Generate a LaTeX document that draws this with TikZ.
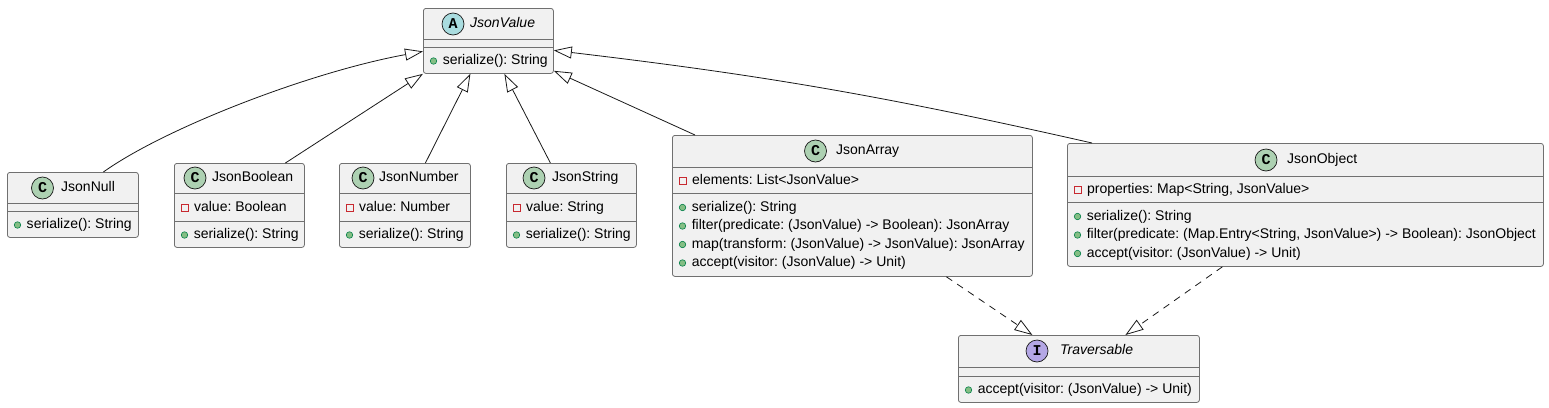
\documentclass[tikz,border=0pt]{standalone}
\usepackage{fontspec}
\setmainfont{Liberation Sans}
\newfontfamily\iconfont{Liberation Mono}
\usepackage{tikz}
\usetikzlibrary{positioning, arrows.meta}

\definecolor{boxfill}{HTML}{F1F1F1}
\definecolor{boxline}{HTML}{707070}
\definecolor{edge}{HTML}{181818}
\definecolor{iconC}{HTML}{ADD1B2}
\definecolor{iconA}{HTML}{A9DCDF}
\definecolor{iconI}{HTML}{B4A7E5}
\definecolor{pubfill}{HTML}{84BE84}
\definecolor{publine}{HTML}{038048}
\definecolor{privline}{HTML}{C82930}

\begin{document}
\begin{tikzpicture}[x=1pt,y=-1pt,
                    font=\fontsize{14pt}{16pt}\selectfont\frenchspacing,
                    inherit/.style={-{Triangle[open,length=18pt,width=12pt]},line width=0.8pt,draw=edge},
                    realize/.style={inherit,dash pattern=on 7pt off 6pt}]
\tikzset{classbox/.style={draw=boxline,fill=boxfill,line width=0.8pt,rounded corners=2.5pt,
                          anchor=north west,inner sep=0pt}}
\tikzset{sepline/.style={draw=boxline,line width=0.8pt}}
\tikzset{classicon/.style={circle,draw=edge,line width=0.7pt,minimum size=22pt,inner sep=0pt,
                           font=\iconfont\bfseries\fontsize{15pt}{15pt}\selectfont}}
\tikzset{classname/.style={anchor=west,inner sep=0pt,text height=10pt,text depth=3pt}}
\tikzset{member/.style={inner sep=0pt,text height=10pt,text depth=3pt,right=5.5pt of #1}}
\tikzset{pub/.style={circle,fill=pubfill,draw=publine,line width=0.6pt,minimum size=6.5pt,inner sep=0pt}}
\tikzset{priv/.style={rectangle,draw=privline,line width=0.8pt,minimum size=7pt,inner sep=0pt}}

\useasboundingbox (0,0) rectangle (1549,407);

        % boxes
        \node[classbox,minimum width=130pt,minimum height=65pt]  (jvalue) at (423,8)   {};
        \node[classbox,minimum width=131pt,minimum height=65pt]  (jnull)  at (7,172)   {};
        \node[classbox,minimum width=130pt,minimum height=84pt]  (jbool)  at (174,163) {};
        \node[classbox,minimum width=131pt,minimum height=84pt]  (jnum)   at (339,163) {};
        \node[classbox,minimum width=130pt,minimum height=84pt]  (jstr)   at (506,163) {};
        \node[classbox,minimum width=360pt,minimum height=141pt] (jarr)   at (672,135) {};
        \node[classbox,minimum width=476pt,minimum height=123pt] (jobj)   at (1067,143) {};
        \node[classbox,minimum width=241pt,minimum height=67pt]  (jtrav)  at (958,335) {};

        % compartments
        \draw[sepline] (423,39) -- (553,39);   \draw[sepline] (423,47) -- (553,47);
        \draw[sepline] (7,203) -- (138,203);   \draw[sepline] (7,211) -- (138,211);
        \draw[sepline] (174,193) -- (304,193); \draw[sepline] (174,221) -- (304,221);
        \draw[sepline] (339,193) -- (470,193); \draw[sepline] (339,221) -- (470,221);
        \draw[sepline] (506,193) -- (636,193); \draw[sepline] (506,221) -- (636,221);
        \draw[sepline] (672,167) -- (1032,167); \draw[sepline] (672,193) -- (1032,193);
        \draw[sepline] (1067,176) -- (1543,176); \draw[sepline] (1067,202) -- (1543,202);
        \draw[sepline] (958,367) -- (1199,367); \draw[sepline] (958,376) -- (1199,376);

        % headers
        \node[classicon,fill=iconA] (valueicon) at (453,24)    {A};
        \node[classname] (valuename) at (470,24)  {\itshape JsonValue};
        \node[classicon,fill=iconC] (nullicon)  at (42.5,188)  {C};
        \node[classname] (nullname)  at (61,188)  {JsonNull};
        \node[classicon,fill=iconC] (boolicon)  at (195,178)   {C};
        \node[classname] (boolname)  at (212,178) {JsonBoolean};
        \node[classicon,fill=iconC] (numicon)   at (363,178)   {C};
        \node[classname] (numname)   at (379,178) {JsonNumber};
        \node[classicon,fill=iconC] (stricon)   at (534,178)   {C};
        \node[classname] (strname)   at (552,178) {JsonString};
        \node[classicon,fill=iconC] (arricon)   at (815.5,151) {C};
        \node[classname] (arrname)   at (836,151) {JsonArray};
        \node[classicon,fill=iconC] (objicon)   at (1266,160)  {C};
        \node[classname] (objname)   at (1287,160) {JsonObject};
        \node[classicon,fill=iconI] (travicon)  at (1037,351)  {I};
        \node[classname] (travname)  at (1060,351) {\itshape Traversable};

        % members
        \node[pub]  (v1) at (433.5,61) {};   \node[member=v1] {serialize(): String};
        \node[pub]  (n1) at (17.5,225) {};   \node[member=n1] {serialize(): String};
        \node[priv] (b0) at (184.5,208) {};  \node[member=b0] {value: Boolean};
        \node[pub]  (b1) at (184.5,235) {};  \node[member=b1] {serialize(): String};
        \node[priv] (u0) at (349.5,208) {};  \node[member=u0] {value: Number};
        \node[pub]  (u1) at (349.5,235) {};  \node[member=u1] {serialize(): String};
        \node[priv] (s0) at (516.5,208) {};  \node[member=s0] {value: String};
        \node[pub]  (s1) at (516.5,235) {};  \node[member=s1] {serialize(): String};
        \node[priv] (a0) at (682.5,181) {};  \node[member=a0] {elements: List<JsonValue>};
        \node[pub]  (a1) at (682.5,207.5) {}; \node[member=a1] {serialize(): String};
        \node[pub]  (a2) at (682.5,226) {};  \node[member=a2] {filter(predicate: (JsonValue) -> Boolean): JsonArray};
        \node[pub]  (a3) at (682.5,244.5) {}; \node[member=a3] {map(transform: (JsonValue) -> JsonValue): JsonArray};
        \node[pub]  (a4) at (682.5,263) {};  \node[member=a4] {accept(visitor: (JsonValue) -> Unit)};
        \node[priv] (o0) at (1077.5,190) {}; \node[member=o0] {properties: Map<String, JsonValue>};
        \node[pub]  (o1) at (1077.5,216.5) {}; \node[member=o1] {serialize(): String};
        \node[pub]  (o2) at (1077.5,235) {}; \node[member=o2] {filter(predicate: (Map.Entry<String, JsonValue>) -> Boolean): JsonObject};
        \node[pub]  (o3) at (1077.5,253.5) {}; \node[member=o3] {accept(visitor: (JsonValue) -> Unit)};
        \node[pub]  (t1) at (968.5,390) {};  \node[member=t1] {accept(visitor: (JsonValue) -> Unit)};

        % inheritance
        \draw[inherit] ([xshift=30.5pt]jnull.north) .. controls (165,128) and (310,72) .. ([yshift=-10.5pt]jvalue.west);
        \draw[inherit] ([xshift=46pt]jbool.north) -- (jvalue.south west);
        \draw[inherit] ([xshift=20.5pt]jnum.north) -- ([xshift=-18pt]jvalue.south);
        \draw[inherit] ([xshift=-21pt]jstr.north) -- ([xshift=16pt]jvalue.south);
        \draw[inherit] ([xshift=23pt]jarr.north west) -- ([yshift=3pt]jvalue.south east);
        \draw[inherit] ([xshift=25pt]jobj.north west) to[bend right=3] ([yshift=-9.5pt]jvalue.east);

        % realization
        \draw[realize] ([xshift=94pt]jarr.south) -- ([xshift=-46.5pt]jtrav.north);
        \draw[realize] ([xshift=-83pt]jobj.south) -- ([xshift=46.5pt]jtrav.north);

\end{tikzpicture}
\end{document}
